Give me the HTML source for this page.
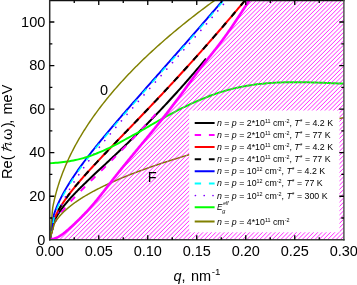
<!DOCTYPE html>
<html><head><meta charset="utf-8"><style>
html,body{margin:0;padding:0;background:#fff;overflow:hidden}
svg{display:block;will-change:transform}
text{font-family:"Liberation Sans",sans-serif;font-size:14.5px;fill:#000}
.lg{font-size:8.8px}
.sp{font-size:5.4px;baseline-shift:3.4px}
.st{font-size:7px;baseline-shift:1.6px}
</style></head><body>
<svg width="357" height="285" viewBox="0 0 357 285">
<defs>
<pattern id="h" patternUnits="userSpaceOnUse" width="3.005" height="10" patternTransform="rotate(45) translate(1.0,0)">
<line x1="0" y1="-1" x2="0" y2="11" stroke="#ff00ff" stroke-width="1.2"/>
</pattern>
<clipPath id="hc"><path d="M49.75,239.8 L50.4,239.27 L51.07,239.23 L51.74,239.15 L52.41,239.05 L53.08,238.91 L53.75,238.74 L54.42,238.54 L55.08,238.31 L55.75,238.05 L56.42,237.77 L57.09,237.46 L57.76,237.13 L58.43,236.78 L59.1,236.4 L59.77,236.01 L60.44,235.59 L61.11,235.16 L61.78,234.7 L62.45,234.23 L63.12,233.75 L63.78,233.25 L64.45,232.73 L65.12,232.2 L65.79,231.66 L66.46,231.11 L67.13,230.54 L67.8,229.97 L68.47,229.38 L69.14,228.79 L69.81,228.19 L70.48,227.58 L71.15,226.97 L71.82,226.35 L72.48,225.72 L73.15,225.1 L73.82,224.46 L74.49,223.83 L75.16,223.19 L75.83,222.56 L76.5,221.91 L77.17,221.27 L77.84,220.62 L78.51,219.97 L79.18,219.31 L79.85,218.65 L80.52,217.98 L81.18,217.31 L81.85,216.64 L82.52,215.96 L83.19,215.28 L83.86,214.59 L84.53,213.89 L85.2,213.2 L85.87,212.49 L86.54,211.78 L87.21,211.06 L87.88,210.34 L88.55,209.61 L89.22,208.88 L89.88,208.13 L90.55,207.38 L91.22,206.63 L91.89,205.87 L92.56,205.1 L93.23,204.32 L93.9,203.53 L94.57,202.74 L95.24,201.94 L95.91,201.13 L96.58,200.32 L97.25,199.5 L97.92,198.68 L98.58,197.85 L99.25,197.02 L99.92,196.18 L100.59,195.34 L101.26,194.49 L101.93,193.64 L102.6,192.79 L103.27,191.94 L103.94,191.08 L104.61,190.22 L105.28,189.36 L105.95,188.49 L106.62,187.63 L107.28,186.77 L107.95,185.9 L108.62,185.04 L109.29,184.17 L109.96,183.31 L110.63,182.45 L111.3,181.59 L111.97,180.73 L112.64,179.87 L113.31,179.02 L113.98,178.16 L114.65,177.31 L115.32,176.47 L115.98,175.62 L116.65,174.78 L117.32,173.93 L117.99,173.09 L118.66,172.26 L119.33,171.42 L120,170.59 L120.67,169.75 L121.34,168.92 L122.01,168.09 L122.68,167.26 L123.35,166.44 L124.02,165.61 L124.68,164.79 L125.35,163.97 L126.02,163.15 L126.69,162.33 L127.36,161.51 L128.03,160.69 L128.7,159.87 L129.37,159.06 L130.04,158.24 L130.71,157.43 L131.38,156.61 L132.05,155.8 L132.72,154.99 L133.38,154.18 L134.05,153.37 L134.72,152.56 L135.39,151.75 L136.06,150.94 L136.73,150.13 L137.4,149.32 L138.07,148.51 L138.74,147.7 L139.41,146.9 L140.08,146.09 L140.75,145.28 L141.42,144.47 L142.08,143.66 L142.75,142.86 L143.42,142.05 L144.09,141.24 L144.76,140.43 L145.43,139.62 L146.1,138.81 L146.77,138 L147.44,137.19 L148.11,136.38 L148.78,135.57 L149.45,134.75 L150.12,133.94 L150.78,133.13 L151.45,132.31 L152.12,131.49 L152.79,130.68 L153.46,129.86 L154.13,129.04 L154.8,128.22 L155.47,127.4 L156.14,126.57 L156.81,125.75 L157.48,124.92 L158.15,124.1 L158.82,123.27 L159.48,122.44 L160.15,121.6 L160.82,120.77 L161.49,119.94 L162.16,119.1 L162.83,118.26 L163.5,117.42 L164.17,116.58 L164.84,115.73 L165.51,114.88 L166.18,114.03 L166.85,113.18 L167.52,112.33 L168.18,111.47 L168.85,110.62 L169.52,109.76 L170.19,108.89 L170.86,108.03 L171.53,107.16 L172.2,106.29 L172.87,105.41 L173.54,104.54 L174.21,103.66 L174.88,102.78 L175.55,101.89 L176.22,101.01 L176.88,100.11 L177.55,99.22 L178.22,98.32 L178.89,97.42 L179.56,96.52 L180.23,95.62 L180.9,94.71 L181.57,93.8 L182.24,92.89 L182.91,91.97 L183.58,91.06 L184.25,90.14 L184.92,89.23 L185.58,88.31 L186.25,87.39 L186.92,86.47 L187.59,85.55 L188.26,84.64 L188.93,83.72 L189.6,82.8 L190.27,81.89 L190.94,80.97 L191.61,80.06 L192.28,79.15 L192.95,78.24 L193.62,77.33 L194.28,76.42 L194.95,75.52 L195.62,74.62 L196.29,73.73 L196.96,72.83 L197.63,71.94 L198.3,71.06 L198.97,70.17 L199.64,69.3 L200.31,68.42 L200.98,67.55 L201.65,66.69 L202.32,65.83 L202.98,64.97 L203.65,64.12 L204.32,63.27 L204.99,62.42 L205.66,61.58 L206.33,60.74 L207,59.9 L207.67,59.06 L208.34,58.22 L209.01,57.38 L209.68,56.54 L210.35,55.7 L211.02,54.86 L211.68,54.03 L212.35,53.18 L213.02,52.34 L213.69,51.5 L214.36,50.65 L215.03,49.8 L215.7,48.95 L216.37,48.1 L217.04,47.24 L217.71,46.37 L218.38,45.51 L219.05,44.63 L219.72,43.76 L220.38,42.87 L221.05,41.98 L221.72,41.09 L222.39,40.19 L223.06,39.28 L223.73,38.37 L224.4,37.45 L225.07,36.52 L225.74,35.59 L226.41,34.66 L227.08,33.72 L227.75,32.77 L228.42,31.82 L229.08,30.86 L229.75,29.9 L230.42,28.94 L231.09,27.96 L231.76,26.99 L232.43,26 L233.1,25.02 L233.77,24.03 L234.44,23.03 L235.11,22.03 L235.78,21.03 L236.45,20.02 L237.12,19.01 L237.78,17.99 L238.45,16.97 L239.12,15.95 L239.79,14.92 L240.46,13.9 L241.13,12.87 L241.8,11.84 L242.47,10.81 L243.14,9.78 L243.81,8.75 L244.48,7.72 L245.15,6.69 L245.82,5.65 L246.48,4.62 L247.15,3.6 L247.82,2.57 L248.49,1.54 L249.16,0.52 L249.83,-0.5 L250.5,-1.52 L350,-5 L350,245 L49.75,245 Z"/></clipPath>
<clipPath id="c"><rect x="49.75" y="0" width="294.15" height="239.8"/></clipPath>
</defs>
<rect width="357" height="285" fill="#fff"/>
<g clip-path="url(#c)" fill="none" stroke-linejoin="round">
<path d="M49.75,239.8 L50.4,239.27 L51.07,239.23 L51.74,239.15 L52.41,239.05 L53.08,238.91 L53.75,238.74 L54.42,238.54 L55.08,238.31 L55.75,238.05 L56.42,237.77 L57.09,237.46 L57.76,237.13 L58.43,236.78 L59.1,236.4 L59.77,236.01 L60.44,235.59 L61.11,235.16 L61.78,234.7 L62.45,234.23 L63.12,233.75 L63.78,233.25 L64.45,232.73 L65.12,232.2 L65.79,231.66 L66.46,231.11 L67.13,230.54 L67.8,229.97 L68.47,229.38 L69.14,228.79 L69.81,228.19 L70.48,227.58 L71.15,226.97 L71.82,226.35 L72.48,225.72 L73.15,225.1 L73.82,224.46 L74.49,223.83 L75.16,223.19 L75.83,222.56 L76.5,221.91 L77.17,221.27 L77.84,220.62 L78.51,219.97 L79.18,219.31 L79.85,218.65 L80.52,217.98 L81.18,217.31 L81.85,216.64 L82.52,215.96 L83.19,215.28 L83.86,214.59 L84.53,213.89 L85.2,213.2 L85.87,212.49 L86.54,211.78 L87.21,211.06 L87.88,210.34 L88.55,209.61 L89.22,208.88 L89.88,208.13 L90.55,207.38 L91.22,206.63 L91.89,205.87 L92.56,205.1 L93.23,204.32 L93.9,203.53 L94.57,202.74 L95.24,201.94 L95.91,201.13 L96.58,200.32 L97.25,199.5 L97.92,198.68 L98.58,197.85 L99.25,197.02 L99.92,196.18 L100.59,195.34 L101.26,194.49 L101.93,193.64 L102.6,192.79 L103.27,191.94 L103.94,191.08 L104.61,190.22 L105.28,189.36 L105.95,188.49 L106.62,187.63 L107.28,186.77 L107.95,185.9 L108.62,185.04 L109.29,184.17 L109.96,183.31 L110.63,182.45 L111.3,181.59 L111.97,180.73 L112.64,179.87 L113.31,179.02 L113.98,178.16 L114.65,177.31 L115.32,176.47 L115.98,175.62 L116.65,174.78 L117.32,173.93 L117.99,173.09 L118.66,172.26 L119.33,171.42 L120,170.59 L120.67,169.75 L121.34,168.92 L122.01,168.09 L122.68,167.26 L123.35,166.44 L124.02,165.61 L124.68,164.79 L125.35,163.97 L126.02,163.15 L126.69,162.33 L127.36,161.51 L128.03,160.69 L128.7,159.87 L129.37,159.06 L130.04,158.24 L130.71,157.43 L131.38,156.61 L132.05,155.8 L132.72,154.99 L133.38,154.18 L134.05,153.37 L134.72,152.56 L135.39,151.75 L136.06,150.94 L136.73,150.13 L137.4,149.32 L138.07,148.51 L138.74,147.7 L139.41,146.9 L140.08,146.09 L140.75,145.28 L141.42,144.47 L142.08,143.66 L142.75,142.86 L143.42,142.05 L144.09,141.24 L144.76,140.43 L145.43,139.62 L146.1,138.81 L146.77,138 L147.44,137.19 L148.11,136.38 L148.78,135.57 L149.45,134.75 L150.12,133.94 L150.78,133.13 L151.45,132.31 L152.12,131.49 L152.79,130.68 L153.46,129.86 L154.13,129.04 L154.8,128.22 L155.47,127.4 L156.14,126.57 L156.81,125.75 L157.48,124.92 L158.15,124.1 L158.82,123.27 L159.48,122.44 L160.15,121.6 L160.82,120.77 L161.49,119.94 L162.16,119.1 L162.83,118.26 L163.5,117.42 L164.17,116.58 L164.84,115.73 L165.51,114.88 L166.18,114.03 L166.85,113.18 L167.52,112.33 L168.18,111.47 L168.85,110.62 L169.52,109.76 L170.19,108.89 L170.86,108.03 L171.53,107.16 L172.2,106.29 L172.87,105.41 L173.54,104.54 L174.21,103.66 L174.88,102.78 L175.55,101.89 L176.22,101.01 L176.88,100.11 L177.55,99.22 L178.22,98.32 L178.89,97.42 L179.56,96.52 L180.23,95.62 L180.9,94.71 L181.57,93.8 L182.24,92.89 L182.91,91.97 L183.58,91.06 L184.25,90.14 L184.92,89.23 L185.58,88.31 L186.25,87.39 L186.92,86.47 L187.59,85.55 L188.26,84.64 L188.93,83.72 L189.6,82.8 L190.27,81.89 L190.94,80.97 L191.61,80.06 L192.28,79.15 L192.95,78.24 L193.62,77.33 L194.28,76.42 L194.95,75.52 L195.62,74.62 L196.29,73.73 L196.96,72.83 L197.63,71.94 L198.3,71.06 L198.97,70.17 L199.64,69.3 L200.31,68.42 L200.98,67.55 L201.65,66.69 L202.32,65.83 L202.98,64.97 L203.65,64.12 L204.32,63.27 L204.99,62.42 L205.66,61.58 L206.33,60.74 L207,59.9 L207.67,59.06 L208.34,58.22 L209.01,57.38 L209.68,56.54 L210.35,55.7 L211.02,54.86 L211.68,54.03 L212.35,53.18 L213.02,52.34 L213.69,51.5 L214.36,50.65 L215.03,49.8 L215.7,48.95 L216.37,48.1 L217.04,47.24 L217.71,46.37 L218.38,45.51 L219.05,44.63 L219.72,43.76 L220.38,42.87 L221.05,41.98 L221.72,41.09 L222.39,40.19 L223.06,39.28 L223.73,38.37 L224.4,37.45 L225.07,36.52 L225.74,35.59 L226.41,34.66 L227.08,33.72 L227.75,32.77 L228.42,31.82 L229.08,30.86 L229.75,29.9 L230.42,28.94 L231.09,27.96 L231.76,26.99 L232.43,26 L233.1,25.02 L233.77,24.03 L234.44,23.03 L235.11,22.03 L235.78,21.03 L236.45,20.02 L237.12,19.01 L237.78,17.99 L238.45,16.97 L239.12,15.95 L239.79,14.92 L240.46,13.9 L241.13,12.87 L241.8,11.84 L242.47,10.81 L243.14,9.78 L243.81,8.75 L244.48,7.72 L245.15,6.69 L245.82,5.65 L246.48,4.62 L247.15,3.6 L247.82,2.57 L248.49,1.54 L249.16,0.52 L249.83,-0.5 L250.5,-1.52 L350,-5 L350,245 L49.75,245 Z" fill="url(#h)" stroke="none"/>
<path d="M49.75,239.8 L53.67,222.34 L53.71,222.26 L54.03,221.55 L54.36,220.84 L54.7,220.14 L55.05,219.45 L55.4,218.76 L55.77,218.07 L56.14,217.39 L56.53,216.71 L56.92,216.03 L57.32,215.36 L57.73,214.69 L58.14,214.02 L58.57,213.36 L59,212.69 L59.44,212.03 L59.88,211.37 L60.34,210.72 L60.8,210.06 L61.27,209.4 L61.74,208.75 L62.23,208.1 L62.72,207.44 L63.21,206.79 L63.72,206.14 L64.23,205.49 L64.75,204.84 L65.27,204.19 L65.81,203.54 L66.34,202.89 L66.89,202.24 L67.44,201.59 L68,200.94 L68.56,200.29 L69.14,199.64 L69.71,198.99 L70.3,198.34 L70.89,197.68 L71.48,197.03 L72.09,196.37 L72.7,195.72 L73.31,195.06 L73.93,194.4 L74.56,193.74 L75.19,193.08 L75.83,192.41 L76.48,191.75 L77.13,191.08 L77.78,190.41 L78.45,189.74 L79.11,189.07 L79.79,188.4 L80.47,187.72 L81.15,187.04 L81.84,186.36 L82.54,185.67 L83.24,184.99 L83.95,184.3 L84.66,183.61 L85.38,182.91 L86.11,182.21 L86.84,181.51 L87.57,180.81 L88.31,180.1 L89.06,179.39 L89.81,178.68 L90.57,177.96 L91.33,177.24 L92.1,176.52 L92.87,175.79 L93.65,175.06 L94.43,174.33 L95.22,173.59 L96.01,172.85 L96.81,172.1 L97.61,171.35 L98.42,170.6 L99.24,169.84 L100.06,169.08 L100.88,168.31 L101.71,167.54 L102.54,166.76 L103.38,165.98 L104.22,165.2 L105.07,164.41 L105.93,163.61 L106.79,162.81 L107.65,162.01 L108.52,161.2 L109.39,160.38 L110.27,159.56 L111.15,158.74 L112.04,157.91 L112.93,157.07 L113.83,156.23 L114.73,155.38 L115.64,154.53 L116.55,153.67 L117.46,152.81 L118.38,151.94 L119.31,151.07 L120.24,150.18 L121.17,149.3 L122.11,148.4 L123.05,147.51 L124,146.6 L124.96,145.69 L125.91,144.77 L126.87,143.85 L127.84,142.92 L128.81,141.98 L129.79,141.04 L130.77,140.09 L131.75,139.13 L132.74,138.17 L133.73,137.2 L134.73,136.22 L135.73,135.23 L136.74,134.24 L137.75,133.25 L138.76,132.24 L139.78,131.23 L140.81,130.21 L141.84,129.18 L142.87,128.15 L143.91,127.11 L144.95,126.06 L145.99,125 L147.04,123.94 L148.1,122.87 L149.15,121.79 L150.22,120.7 L151.28,119.61 L152.35,118.51 L153.43,117.4 L154.51,116.28 L155.59,115.16 L156.68,114.02 L157.77,112.88 L158.87,111.73 L159.97,110.57 L161.07,109.41 L162.18,108.24 L163.29,107.05 L164.41,105.86 L165.53,104.66 L166.65,103.46 L167.78,102.24 L168.92,101.02 L170.05,99.79 L171.19,98.54 L172.34,97.3 L173.49,96.04 L174.64,94.77 L175.8,93.49 L176.96,92.21 L178.12,90.92 L179.29,89.61 L180.47,88.3 L181.64,86.98 L182.82,85.65 L184.01,84.32 L185.2,82.97 L186.39,81.61 L187.59,80.25 L188.79,78.87 L189.99,77.49 L191.2,76.1 L192.41,74.7 L193.63,73.28 L194.85,71.86 L196.07,70.43 L197.3,68.99 L198.53,67.54 L199.77,66.09 L201.01,64.62 L202.25,63.14 L203.5,61.65 L204.75,60.16 L206,58.65" stroke="#000" stroke-width="2"/>
<path d="M49.75,239.8 L53.67,224.45 L53.82,224.14 L54.08,223.64 L54.34,223.14 L54.6,222.65 L54.87,222.16 L55.15,221.67 L55.43,221.18 L55.72,220.69 L56.01,220.2 L56.31,219.71 L56.61,219.23 L56.92,218.75 L57.23,218.26 L57.55,217.78 L57.87,217.3 L58.19,216.81 L58.53,216.33 L58.86,215.85 L59.2,215.37 L59.55,214.89 L59.9,214.41 L60.26,213.92 L60.62,213.44 L60.98,212.96 L61.35,212.48 L61.72,212 L62.1,211.51 L62.48,211.03 L62.87,210.54 L63.26,210.06 L63.66,209.57 L64.06,209.09 L64.46,208.6 L64.87,208.11 L65.28,207.63 L65.7,207.14 L66.12,206.64 L66.54,206.15 L66.97,205.66 L67.4,205.17 L67.84,204.67 L68.28,204.17 L68.72,203.68 L69.17,203.18 L69.62,202.68 L70.08,202.18 L70.54,201.67 L71,201.17 L71.47,200.66 L71.94,200.15 L72.42,199.64 L72.9,199.13 L73.38,198.62 L73.87,198.1 L74.36,197.59 L74.85,197.07 L75.35,196.55 L75.85,196.03 L76.35,195.5 L76.86,194.98 L77.38,194.45 L77.89,193.92 L78.41,193.39 L78.93,192.85 L79.46,192.32 L79.99,191.78 L80.52,191.24 L81.06,190.69 L81.6,190.15 L82.14,189.6 L82.69,189.05 L83.24,188.5 L83.8,187.94 L84.35,187.38 L84.92,186.82 L85.48,186.26 L86.05,185.69 L86.62,185.13 L87.19,184.56 L87.77,183.98 L88.35,183.41 L88.94,182.83 L89.52,182.25 L90.11,181.66 L90.71,181.08 L91.31,180.49 L91.91,179.89 L92.51,179.3 L93.12,178.7 L93.73,178.1 L94.34,177.49 L94.96,176.88 L95.58,176.27 L96.2,175.66 L96.83,175.04 L97.46,174.42 L98.09,173.8 L98.72,173.17 L99.36,172.54 L100,171.91 L100.65,171.27 L101.3,170.63 L101.95,169.99 L102.6,169.34 L103.26,168.69 L103.92,168.04 L104.58,167.38 L105.25,166.72 L105.92,166.06 L106.59,165.39 L107.26,164.72 L107.94,164.05 L108.62,163.37 L109.31,162.69 L109.99,162 L110.68,161.31 L111.38,160.62 L112.07,159.92 L112.77,159.22 L113.47,158.52 L114.18,157.81 L114.89,157.1 L115.6,156.39 L116.31,155.67 L117.03,154.94 L117.75,154.22 L118.47,153.49 L119.19,152.75 L119.92,152.01 L120.65,151.27 L121.38,150.52 L122.12,149.77 L122.86,149.02 L123.6,148.26 L124.34,147.49 L125.09,146.73 L125.84,145.95 L126.6,145.18 L127.35,144.4 L128.11,143.61 L128.87,142.82 L129.63,142.03 L130.4,141.23 L131.17,140.43 L131.94,139.63 L132.72,138.82 L133.5,138 L134.28,137.18 L135.06,136.36 L135.84,135.53 L136.63,134.7 L137.42,133.86 L138.22,133.02 L139.01,132.18 L139.81,131.33 L140.62,130.47 L141.42,129.61 L142.23,128.75 L143.04,127.88 L143.85,127 L144.67,126.13 L145.48,125.24 L146.3,124.36 L147.13,123.46 L147.95,122.57 L148.78,121.67 L149.61,120.76 L150.44,119.85 L151.28,118.93 L152.12,118.01 L152.96,117.09 L153.8,116.16 L154.65,115.22 L155.5,114.28" stroke="#ff00ff" stroke-width="2" stroke-dasharray="6.3 8.15" stroke-dashoffset="-1.15"/>
<path d="M49.75,239.8 L53.67,220.28 L53.98,219.49 L54.37,218.57 L54.76,217.65 L55.17,216.74 L55.59,215.83 L56.02,214.93 L56.46,214.04 L56.91,213.14 L57.38,212.25 L57.85,211.36 L58.34,210.48 L58.83,209.6 L59.34,208.72 L59.86,207.84 L60.38,206.96 L60.92,206.09 L61.47,205.21 L62.02,204.34 L62.59,203.46 L63.16,202.59 L63.75,201.72 L64.34,200.84 L64.95,199.97 L65.56,199.1 L66.18,198.22 L66.81,197.35 L67.45,196.47 L68.1,195.59 L68.75,194.72 L69.42,193.84 L70.09,192.96 L70.77,192.07 L71.47,191.19 L72.16,190.3 L72.87,189.41 L73.59,188.52 L74.31,187.63 L75.04,186.74 L75.78,185.84 L76.53,184.94 L77.29,184.04 L78.05,183.13 L78.82,182.23 L79.6,181.31 L80.39,180.4 L81.18,179.48 L81.98,178.56 L82.79,177.64 L83.61,176.71 L84.43,175.78 L85.27,174.85 L86.11,173.91 L86.95,172.97 L87.81,172.02 L88.67,171.08 L89.54,170.12 L90.41,169.16 L91.29,168.2 L92.18,167.24 L93.08,166.27 L93.98,165.29 L94.9,164.31 L95.81,163.33 L96.74,162.34 L97.67,161.35 L98.61,160.35 L99.55,159.35 L100.51,158.34 L101.46,157.33 L102.43,156.31 L103.4,155.29 L104.38,154.26 L105.37,153.23 L106.36,152.19 L107.36,151.15 L108.36,150.1 L109.37,149.05 L110.39,147.99 L111.42,146.92 L112.45,145.85 L113.48,144.77 L114.53,143.69 L115.58,142.6 L116.63,141.5 L117.7,140.4 L118.77,139.3 L119.84,138.18 L120.92,137.06 L122.01,135.94 L123.1,134.81 L124.2,133.67 L125.31,132.52 L126.42,131.37 L127.54,130.22 L128.67,129.05 L129.8,127.88 L130.93,126.7 L132.07,125.52 L133.22,124.33 L134.38,123.13 L135.54,121.92 L136.7,120.71 L137.88,119.49 L139.05,118.27 L140.24,117.04 L141.43,115.79 L142.62,114.55 L143.82,113.29 L145.03,112.03 L146.24,110.76 L147.46,109.48 L148.69,108.2 L149.92,106.91 L151.15,105.61 L152.39,104.3 L153.64,102.99 L154.89,101.67 L156.15,100.33 L157.42,99 L158.68,97.65 L159.96,96.3 L161.24,94.94 L162.53,93.57 L163.82,92.19 L165.11,90.8 L166.42,89.41 L167.73,88.01 L169.04,86.6 L170.36,85.18 L171.68,83.75 L173.01,82.32 L174.35,80.87 L175.69,79.42 L177.03,77.96 L178.39,76.49 L179.74,75.02 L181.1,73.53 L182.47,72.04 L183.84,70.53 L185.22,69.02 L186.61,67.5 L187.99,65.97 L189.39,64.43 L190.79,62.89 L192.19,61.33 L193.6,59.76 L195.02,58.19 L196.44,56.61 L197.86,55.02 L199.29,53.42 L200.73,51.81 L202.17,50.19 L203.61,48.56 L205.06,46.92 L206.52,45.27 L207.98,43.62 L209.45,41.95 L210.92,40.28 L212.39,38.59 L213.87,36.9 L215.36,35.19 L216.85,33.48 L218.35,31.76 L219.85,30.03 L221.35,28.29 L222.86,26.53 L224.38,24.77 L225.9,23 L227.43,21.22 L228.96,19.43 L230.49,17.63 L232.04,15.82 L233.58,14 L235.13,12.17 L236.69,10.33 L238.25,8.48 L239.81,6.62 L241.38,4.75 L242.96,2.87 L244.54,0.98 L246.12,-0.92 L247.71,-2.83" stroke="#ff0000" stroke-width="2"/>
<path d="M49.75,239.8 L53.67,220.28 L53.98,219.49 L54.37,218.57 L54.76,217.65 L55.17,216.74 L55.59,215.83 L56.02,214.93 L56.46,214.04 L56.91,213.14 L57.38,212.25 L57.85,211.36 L58.34,210.48 L58.83,209.6 L59.34,208.72 L59.86,207.84 L60.38,206.96 L60.92,206.09 L61.47,205.21 L62.02,204.34 L62.59,203.46 L63.16,202.59 L63.75,201.72 L64.34,200.84 L64.95,199.97 L65.56,199.1 L66.18,198.22 L66.81,197.35 L67.45,196.47 L68.1,195.59 L68.75,194.72 L69.42,193.84 L70.09,192.96 L70.77,192.07 L71.47,191.19 L72.16,190.3 L72.87,189.41 L73.59,188.52 L74.31,187.63 L75.04,186.74 L75.78,185.84 L76.53,184.94 L77.29,184.04 L78.05,183.13 L78.82,182.23 L79.6,181.31 L80.39,180.4 L81.18,179.48 L81.98,178.56 L82.79,177.64 L83.61,176.71 L84.43,175.78 L85.27,174.85 L86.11,173.91 L86.95,172.97 L87.81,172.02 L88.67,171.08 L89.54,170.12 L90.41,169.16 L91.29,168.2 L92.18,167.24 L93.08,166.27 L93.98,165.29 L94.9,164.31 L95.81,163.33 L96.74,162.34 L97.67,161.35 L98.61,160.35 L99.55,159.35 L100.51,158.34 L101.46,157.33 L102.43,156.31 L103.4,155.29 L104.38,154.26 L105.37,153.23 L106.36,152.19 L107.36,151.15 L108.36,150.1 L109.37,149.05 L110.39,147.99 L111.42,146.92 L112.45,145.85 L113.48,144.77 L114.53,143.69 L115.58,142.6 L116.63,141.5 L117.7,140.4 L118.77,139.3 L119.84,138.18 L120.92,137.06 L122.01,135.94 L123.1,134.81 L124.2,133.67 L125.31,132.52 L126.42,131.37 L127.54,130.22 L128.67,129.05 L129.8,127.88 L130.93,126.7 L132.07,125.52 L133.22,124.33 L134.38,123.13 L135.54,121.92 L136.7,120.71 L137.88,119.49 L139.05,118.27 L140.24,117.04 L141.43,115.79 L142.62,114.55 L143.82,113.29 L145.03,112.03 L146.24,110.76 L147.46,109.48 L148.69,108.2 L149.92,106.91 L151.15,105.61 L152.39,104.3 L153.64,102.99 L154.89,101.67 L156.15,100.33 L157.42,99 L158.68,97.65 L159.96,96.3 L161.24,94.94 L162.53,93.57 L163.82,92.19 L165.11,90.8 L166.42,89.41 L167.73,88.01 L169.04,86.6 L170.36,85.18 L171.68,83.75 L173.01,82.32 L174.35,80.87 L175.69,79.42 L177.03,77.96 L178.39,76.49 L179.74,75.02 L181.1,73.53 L182.47,72.04 L183.84,70.53 L185.22,69.02 L186.61,67.5 L187.99,65.97 L189.39,64.43 L190.79,62.89 L192.19,61.33 L193.6,59.76 L195.02,58.19 L196.44,56.61 L197.86,55.02 L199.29,53.42 L200.73,51.81 L202.17,50.19 L203.61,48.56 L205.06,46.92 L206.52,45.27 L207.98,43.62 L209.45,41.95 L210.92,40.28 L212.39,38.59 L213.87,36.9 L215.36,35.19 L216.85,33.48 L218.35,31.76 L219.85,30.03 L221.35,28.29 L222.86,26.53 L224.38,24.77 L225.9,23 L227.43,21.22 L228.96,19.43 L230.49,17.63 L232.04,15.82 L233.58,14 L235.13,12.17 L236.69,10.33 L238.25,8.48 L239.81,6.62 L241.38,4.75 L242.96,2.87 L244.54,0.98 L246.12,-0.92 L247.71,-2.83" stroke="#000" stroke-width="2" stroke-dasharray="6.3 8.15" stroke-dashoffset="-1.95"/>
<path d="M49.75,239.8 L53.67,215.43 L53.86,214.81 L54.22,213.74 L54.58,212.68 L54.95,211.62 L55.34,210.57 L55.73,209.53 L56.13,208.49 L56.55,207.46 L56.97,206.43 L57.4,205.41 L57.84,204.38 L58.3,203.37 L58.76,202.35 L59.22,201.34 L59.7,200.33 L60.19,199.33 L60.69,198.33 L61.19,197.32 L61.7,196.32 L62.22,195.33 L62.75,194.33 L63.29,193.33 L63.84,192.34 L64.39,191.34 L64.95,190.35 L65.52,189.36 L66.1,188.36 L66.68,187.37 L67.28,186.38 L67.88,185.39 L68.48,184.39 L69.1,183.4 L69.72,182.41 L70.35,181.41 L70.99,180.42 L71.64,179.42 L72.29,178.43 L72.95,177.43 L73.61,176.43 L74.29,175.43 L74.97,174.43 L75.65,173.43 L76.35,172.43 L77.05,171.42 L77.76,170.42 L78.47,169.41 L79.19,168.4 L79.92,167.39 L80.66,166.37 L81.4,165.36 L82.15,164.34 L82.9,163.32 L83.66,162.3 L84.43,161.27 L85.2,160.24 L85.98,159.22 L86.77,158.18 L87.56,157.15 L88.36,156.11 L89.17,155.07 L89.98,154.03 L90.8,152.99 L91.62,151.94 L92.45,150.89 L93.29,149.83 L94.13,148.78 L94.98,147.72 L95.83,146.65 L96.69,145.59 L97.56,144.52 L98.43,143.44 L99.31,142.37 L100.19,141.29 L101.08,140.21 L101.98,139.12 L102.88,138.03 L103.79,136.93 L104.7,135.84 L105.62,134.74 L106.54,133.63 L107.47,132.52 L108.41,131.41 L109.35,130.3 L110.3,129.18 L111.25,128.05 L112.21,126.92 L113.17,125.79 L114.14,124.66 L115.12,123.52 L116.1,122.37 L117.08,121.22 L118.07,120.07 L119.07,118.91 L120.07,117.75 L121.08,116.59 L122.09,115.42 L123.11,114.24 L124.13,113.06 L125.16,111.88 L126.19,110.69 L127.23,109.5 L128.28,108.3 L129.33,107.1 L130.38,105.89 L131.44,104.68 L132.51,103.47 L133.58,102.25 L134.65,101.02 L135.73,99.79 L136.82,98.55 L137.91,97.31 L139.01,96.07 L140.11,94.82 L141.21,93.56 L142.33,92.3 L143.44,91.04 L144.56,89.77 L145.69,88.49 L146.82,87.21 L147.96,85.92 L149.1,84.63 L150.24,83.33 L151.39,82.03 L152.55,80.72 L153.71,79.41 L154.88,78.09 L156.05,76.77 L157.22,75.44 L158.4,74.11 L159.59,72.77 L160.78,71.42 L161.97,70.07 L163.17,68.71 L164.38,67.35 L165.59,65.98 L166.8,64.61 L168.02,63.23 L169.24,61.84 L170.47,60.45 L171.7,59.05 L172.94,57.65 L174.18,56.24 L175.43,54.83 L176.68,53.41 L177.93,51.98 L179.19,50.55 L180.46,49.11 L181.73,47.66 L183,46.21 L184.28,44.76 L185.57,43.29 L186.85,41.82 L188.15,40.35 L189.44,38.87 L190.75,37.38 L192.05,35.89 L193.36,34.39 L194.68,32.88 L196,31.37 L197.32,29.85 L198.65,28.32 L199.98,26.79 L201.32,25.25 L202.66,23.71 L204.01,22.16 L205.36,20.6 L206.72,19.03 L208.08,17.46 L209.44,15.89 L210.81,14.3 L212.18,12.71 L213.56,11.11 L214.94,9.51 L216.33,7.9 L217.72,6.28 L219.11,4.66 L220.51,3.03 L221.91,1.39 L223.32,-0.25 L224.73,-1.9 L226.15,-3.56" stroke="#0000ff" stroke-width="1.9"/>
<path d="M49.75,239.8 L54.55,215.72 L54.88,214.76 L55.24,213.68 L55.61,212.6 L56,211.52 L56.39,210.46 L56.8,209.4 L57.21,208.35 L57.64,207.3 L58.07,206.25 L58.51,205.21 L58.97,204.17 L59.43,203.14 L59.91,202.11 L60.39,201.09 L60.88,200.06 L61.38,199.04 L61.89,198.02 L62.41,197 L62.93,195.99 L63.47,194.97 L64.01,193.96 L64.57,192.94 L65.13,191.93 L65.7,190.92 L66.27,189.91 L66.86,188.9 L67.45,187.89 L68.05,186.88 L68.66,185.87 L69.28,184.86 L69.91,183.85 L70.54,182.84 L71.18,181.83 L71.83,180.82 L72.48,179.81 L73.14,178.8 L73.81,177.78 L74.49,176.77 L75.18,175.75 L75.87,174.73 L76.57,173.71 L77.27,172.69 L77.99,171.67 L78.71,170.65 L79.44,169.62 L80.17,168.59 L80.91,167.56 L81.66,166.53 L82.42,165.5 L83.18,164.46 L83.95,163.42 L84.72,162.38 L85.5,161.34 L86.29,160.29 L87.09,159.25 L87.89,158.2 L88.7,157.14 L89.51,156.09 L90.33,155.03 L91.16,153.97 L92,152.9 L92.84,151.84 L93.68,150.77 L94.54,149.69 L95.4,148.62 L96.26,147.54 L97.13,146.45 L98.01,145.37 L98.9,144.28 L99.79,143.18 L100.68,142.09 L101.59,140.99 L102.49,139.88 L103.41,138.78 L104.33,137.67 L105.26,136.55 L106.19,135.43 L107.13,134.31 L108.07,133.18 L109.02,132.05 L109.98,130.92 L110.94,129.78 L111.91,128.64 L112.88,127.49 L113.86,126.34 L114.84,125.19 L115.83,124.03 L116.83,122.87 L117.83,121.7 L118.84,120.53 L119.85,119.35 L120.87,118.17 L121.89,116.98 L122.92,115.79 L123.96,114.6 L125,113.4 L126.05,112.2 L127.1,110.99 L128.16,109.77 L129.22,108.56 L130.29,107.33 L131.36,106.11 L132.44,104.87 L133.52,103.64 L134.61,102.39 L135.71,101.15 L136.81,99.89 L137.91,98.64 L139.02,97.37 L140.14,96.1 L141.26,94.83 L142.39,93.55 L143.52,92.27 L144.66,90.98 L145.8,89.69 L146.94,88.39 L148.1,87.08 L149.25,85.77 L150.42,84.46 L151.58,83.14 L152.76,81.81 L153.94,80.48 L155.12,79.14 L156.31,77.8 L157.5,76.45 L158.7,75.09 L159.9,73.73 L161.11,72.36 L162.32,70.99 L163.54,69.61 L164.76,68.23 L165.99,66.84 L167.22,65.45 L168.46,64.04 L169.7,62.64 L170.95,61.22 L172.2,59.8 L173.46,58.38 L174.72,56.95 L175.99,55.51 L177.26,54.07 L178.54,52.62 L179.82,51.16 L181.1,49.7 L182.39,48.23 L183.69,46.76 L184.99,45.27 L186.3,43.79 L187.61,42.29 L188.92,40.79 L190.24,39.29 L191.56,37.77 L192.89,36.25 L194.22,34.73 L195.56,33.2 L196.91,31.66 L198.25,30.11 L199.6,28.56 L200.96,27 L202.32,25.44 L203.69,23.86 L205.06,22.29 L206.43,20.7 L207.81,19.11 L209.2,17.51 L210.58,15.9 L211.98,14.29 L213.37,12.67 L214.78,11.05 L216.18,9.41 L217.59,7.77 L219.01,6.13 L220.43,4.47 L221.85,2.81 L223.28,1.14 L224.72,-0.53 L226.15,-2.21 L227.6,-3.9 L229.04,-5.6 L230.49,-7.3 L231.95,-9.01" stroke="#00ffff" stroke-width="1.5" stroke-dasharray="6.3 8.15" stroke-dashoffset="-2.45"/>
<path d="M49.75,239.8 L57.57,215.43 L57.98,214.46 L58.34,213.38 L58.71,212.3 L59.1,211.22 L59.49,210.16 L59.9,209.1 L60.31,208.05 L60.74,207 L61.17,205.95 L61.61,204.91 L62.07,203.87 L62.53,202.84 L63.01,201.81 L63.49,200.79 L63.98,199.76 L64.48,198.74 L64.99,197.72 L65.51,196.7 L66.03,195.69 L66.57,194.67 L67.11,193.66 L67.67,192.64 L68.23,191.63 L68.8,190.62 L69.37,189.61 L69.96,188.6 L70.55,187.59 L71.15,186.58 L71.76,185.57 L72.38,184.56 L73.01,183.55 L73.64,182.54 L74.28,181.53 L74.93,180.52 L75.58,179.51 L76.24,178.5 L76.91,177.48 L77.59,176.47 L78.28,175.45 L78.97,174.43 L79.67,173.41 L80.37,172.39 L81.09,171.37 L81.81,170.35 L82.54,169.32 L83.27,168.29 L84.01,167.26 L84.76,166.23 L85.52,165.2 L86.28,164.16 L87.05,163.12 L87.82,162.08 L88.6,161.04 L89.39,159.99 L90.19,158.95 L90.99,157.9 L91.8,156.84 L92.61,155.79 L93.43,154.73 L94.26,153.67 L95.1,152.6 L95.94,151.54 L96.78,150.47 L97.64,149.39 L98.5,148.32 L99.36,147.24 L100.23,146.15 L101.11,145.07 L102,143.98 L102.89,142.88 L103.78,141.79 L104.69,140.69 L105.59,139.58 L106.51,138.48 L107.43,137.37 L108.36,136.25 L109.29,135.13 L110.23,134.01 L111.17,132.88 L112.12,131.75 L113.08,130.62 L114.04,129.48 L115.01,128.34 L115.98,127.19 L116.96,126.04 L117.94,124.89 L118.93,123.73 L119.93,122.57 L120.93,121.4 L121.94,120.23 L122.95,119.05 L123.97,117.87 L124.99,116.68 L126.02,115.49 L127.06,114.3 L128.1,113.1 L129.15,111.9 L130.2,110.69 L131.26,109.47 L132.32,108.26 L133.39,107.03 L134.46,105.81 L135.54,104.57 L136.62,103.34 L137.71,102.09 L138.81,100.85 L139.91,99.59 L141.01,98.34 L142.12,97.07 L143.24,95.8 L144.36,94.53 L145.49,93.25 L146.62,91.97 L147.76,90.68 L148.9,89.39 L150.04,88.09 L151.2,86.78 L152.35,85.47 L153.52,84.16 L154.68,82.84 L155.86,81.51 L157.04,80.18 L158.22,78.84 L159.41,77.5 L160.6,76.15 L161.8,74.79 L163,73.43 L164.21,72.06 L165.42,70.69 L166.64,69.31 L167.86,67.93 L169.09,66.54 L170.32,65.15 L171.56,63.74 L172.8,62.34 L174.05,60.92 L175.3,59.5 L176.56,58.08 L177.82,56.65 L179.09,55.21 L180.36,53.77 L181.64,52.32 L182.92,50.86 L184.2,49.4 L185.49,47.93 L186.79,46.46 L188.09,44.97 L189.4,43.49 L190.71,41.99 L192.02,40.49 L193.34,38.99 L194.66,37.47 L195.99,35.95 L197.32,34.43 L198.66,32.9 L200.01,31.36 L201.35,29.81 L202.7,28.26 L204.06,26.7 L205.42,25.14 L206.79,23.56 L208.16,21.99 L209.53,20.4 L210.91,18.81 L212.3,17.21 L213.68,15.6 L215.08,13.99 L216.47,12.37 L217.88,10.75 L219.28,9.11 L220.69,7.47 L222.11,5.83 L223.53,4.17 L224.95,2.51 L226.38,0.84 L227.82,-0.83 L229.25,-2.51 L230.7,-4.2 L232.14,-5.9 L233.59,-7.6 L235.05,-9.31" stroke="#8000ff" stroke-width="1.7" stroke-linecap="round" stroke-dasharray="0.001 8.599" stroke-dashoffset="-2.8"/>
<path d="M49.75,163.22 L51.72,163.11 L53.7,162.98 L55.67,162.84 L57.64,162.67 L59.62,162.48 L61.59,162.27 L63.56,162.03 L65.54,161.77 L67.51,161.48 L69.48,161.17 L71.45,160.83 L73.43,160.45 L75.4,160.05 L77.37,159.61 L79.35,159.14 L81.32,158.63 L83.29,158.09 L85.27,157.51 L87.24,156.89 L89.21,156.24 L91.19,155.55 L93.16,154.82 L95.13,154.07 L97.11,153.28 L99.08,152.47 L101.05,151.64 L103.03,150.78 L105,149.9 L106.97,149 L108.94,148.07 L110.92,147.11 L112.89,146.13 L114.86,145.13 L116.84,144.1 L118.81,143.04 L120.78,141.96 L122.76,140.85 L124.73,139.74 L126.7,138.63 L128.68,137.54 L130.65,136.49 L132.62,135.46 L134.6,134.42 L136.57,133.35 L138.54,132.26 L140.52,131.14 L142.49,130.01 L144.46,128.87 L146.43,127.72 L148.41,126.57 L150.38,125.42 L152.35,124.28 L154.33,123.14 L156.3,122.01 L158.27,120.89 L160.25,119.78 L162.22,118.68 L164.19,117.58 L166.17,116.5 L168.14,115.43 L170.11,114.36 L172.09,113.31 L174.06,112.27 L176.03,111.24 L178.01,110.22 L179.98,109.22 L181.95,108.23 L183.92,107.25 L185.9,106.29 L187.87,105.34 L189.84,104.41 L191.82,103.49 L193.79,102.59 L195.76,101.71 L197.74,100.84 L199.71,99.99 L201.68,99.16 L203.66,98.35 L205.63,97.55 L207.6,96.78 L209.58,96.02 L211.55,95.28 L213.52,94.57 L215.49,93.87 L217.47,93.2 L219.44,92.55 L221.41,91.92 L223.39,91.32 L225.36,90.73 L227.33,90.18 L229.31,89.64 L231.28,89.13 L233.25,88.64 L235.23,88.17 L237.2,87.72 L239.17,87.29 L241.15,86.89 L243.12,86.5 L245.09,86.14 L247.07,85.79 L249.04,85.46 L251.01,85.15 L252.98,84.86 L254.96,84.59 L256.93,84.33 L258.9,84.09 L260.88,83.87 L262.85,83.66 L264.82,83.47 L266.8,83.29 L268.77,83.13 L270.74,82.98 L272.72,82.85 L274.69,82.73 L276.66,82.62 L278.64,82.52 L280.61,82.44 L282.58,82.37 L284.56,82.31 L286.53,82.26 L288.5,82.22 L290.47,82.19 L292.45,82.17 L294.42,82.16 L296.39,82.16 L298.37,82.17 L300.34,82.19 L302.31,82.21 L304.29,82.24 L306.26,82.27 L308.23,82.32 L310.21,82.37 L312.18,82.42 L314.15,82.48 L316.13,82.54 L318.1,82.61 L320.07,82.68 L322.05,82.75 L324.02,82.83 L325.99,82.91 L327.96,82.99 L329.94,83.08 L331.91,83.16 L333.88,83.25 L335.86,83.33 L337.83,83.42 L339.8,83.5 L341.78,83.59 L343.75,83.67" stroke="#00ff00" stroke-width="1.95"/>
<path d="M49.75,239.8 L52.69,207.83 L52.82,207.15 L53.05,205.94 L53.29,204.73 L53.54,203.52 L53.79,202.31 L54.06,201.1 L54.33,199.89 L54.61,198.68 L54.9,197.47 L55.2,196.26 L55.51,195.05 L55.82,193.84 L56.15,192.63 L56.48,191.42 L56.82,190.22 L57.17,189.01 L57.53,187.8 L57.89,186.59 L58.27,185.38 L58.65,184.17 L59.04,182.96 L59.44,181.75 L59.85,180.54 L60.27,179.33 L60.69,178.12 L61.13,176.91 L61.57,175.7 L62.02,174.49 L62.48,173.28 L62.94,172.07 L63.42,170.87 L63.9,169.66 L64.39,168.45 L64.9,167.24 L65.4,166.03 L65.92,164.82 L66.45,163.61 L66.98,162.4 L67.52,161.19 L68.08,159.98 L68.64,158.77 L69.2,157.56 L69.78,156.35 L70.36,155.14 L70.96,153.93 L71.56,152.72 L72.17,151.52 L72.79,150.31 L73.41,149.1 L74.05,147.89 L74.69,146.68 L75.35,145.47 L76.01,144.26 L76.67,143.05 L77.35,141.84 L78.04,140.63 L78.73,139.42 L79.43,138.21 L80.15,137 L80.86,135.79 L81.59,134.58 L82.33,133.37 L83.07,132.16 L83.83,130.96 L84.59,129.75 L85.36,128.54 L86.14,127.33 L86.92,126.12 L87.72,124.91 L88.52,123.7 L89.33,122.49 L90.15,121.28 L90.98,120.07 L91.82,118.86 L92.67,117.65 L93.52,116.44 L94.38,115.23 L95.25,114.02 L96.13,112.81 L97.02,111.61 L97.92,110.4 L98.82,109.19 L99.73,107.98 L100.65,106.77 L101.58,105.56 L102.52,104.35 L103.47,103.14 L104.42,101.93 L105.39,100.72 L106.36,99.51 L107.34,98.3 L108.33,97.09 L109.32,95.88 L110.33,94.67 L111.34,93.46 L112.37,92.26 L113.4,91.05 L114.44,89.84 L115.48,88.63 L116.54,87.42 L117.6,86.21 L118.68,85 L119.76,83.79 L120.85,82.58 L121.95,81.37 L123.05,80.16 L124.17,78.95 L125.29,77.74 L126.42,76.53 L127.56,75.32 L128.71,74.11 L129.87,72.91 L131.03,71.7 L132.21,70.49 L133.39,69.28 L134.58,68.07 L135.78,66.86 L136.99,65.65 L138.2,64.44 L139.43,63.23 L140.66,62.02 L141.9,60.81 L143.15,59.6 L144.41,58.39 L145.67,57.18 L146.95,55.97 L148.23,54.76 L149.52,53.55 L150.82,52.35 L152.13,51.14 L153.45,49.93 L154.77,48.72 L156.11,47.51 L157.45,46.3 L158.8,45.09 L160.16,43.88 L161.52,42.67 L162.9,41.46 L164.28,40.25 L165.68,39.04 L167.08,37.83 L168.49,36.62 L169.91,35.41 L171.33,34.2 L172.77,33 L174.21,31.79 L175.66,30.58 L177.12,29.37 L178.59,28.16 L180.06,26.95 L181.55,25.74 L183.04,24.53 L184.55,23.32 L186.06,22.11 L187.57,20.9 L189.1,19.69 L190.64,18.48 L192.18,17.27 L193.73,16.06 L195.29,14.85 L196.86,13.65 L198.44,12.44 L200.03,11.23 L201.62,10.02 L203.22,8.81 L204.84,7.6 L206.46,6.39 L208.08,5.18 L209.72,3.97 L211.36,2.76 L213.02,1.55 L214.68,0.34 L216.35,-0.87" stroke="#808000" stroke-width="1.45"/>
<path d="M49.75,239.8 L54.65,222.97 L54.77,222.77 L55.16,222.14 L55.57,221.51 L55.99,220.88 L56.43,220.24 L56.88,219.61 L57.35,218.98 L57.83,218.35 L58.33,217.73 L58.84,217.1 L59.37,216.47 L59.91,215.84 L60.47,215.22 L61.04,214.59 L61.63,213.96 L62.23,213.34 L62.85,212.72 L63.48,212.09 L64.12,211.47 L64.78,210.84 L65.46,210.22 L66.15,209.6 L66.86,208.98 L67.58,208.36 L68.31,207.74 L69.06,207.11 L69.82,206.49 L70.6,205.87 L71.4,205.26 L72.21,204.64 L73.03,204.02 L73.87,203.4 L74.72,202.78 L75.59,202.16 L76.48,201.55 L77.37,200.93 L78.29,200.31 L79.22,199.7 L80.16,199.08 L81.12,198.46 L82.09,197.85 L83.08,197.23 L84.08,196.62 L85.1,196 L86.13,195.39 L87.17,194.78 L88.24,194.16 L89.31,193.55 L90.4,192.94 L91.51,192.32 L92.63,191.71 L93.77,191.1 L94.92,190.49 L96.08,189.87 L97.26,189.26 L98.46,188.65 L99.67,188.04 L100.89,187.43 L102.13,186.82 L103.39,186.21 L104.66,185.6 L105.94,184.99 L107.24,184.38 L108.56,183.77 L109.88,183.16 L111.23,182.55 L112.59,181.94 L113.96,181.33 L115.35,180.72 L116.75,180.12 L118.17,179.51 L119.6,178.9 L121.05,178.29 L122.51,177.69 L123.99,177.08 L125.48,176.47 L126.99,175.86 L128.51,175.26 L130.05,174.65 L131.6,174.04 L133.17,173.44 L134.75,172.83 L136.34,172.23 L137.96,171.62 L139.58,171.02 L141.22,170.41 L142.88,169.81 L144.55,169.2 L146.23,168.6 L147.93,167.99 L149.65,167.39 L151.38,166.78 L153.12,166.18 L154.88,165.57 L156.66,164.97 L158.45,164.37 L160.25,163.76 L162.07,163.16 L163.9,162.56 L165.75,161.96 L167.61,161.35 L169.49,160.75 L171.39,160.15 L173.29,159.55 L175.22,158.94 L177.15,158.34 L179.11,157.74 L181.07,157.14 L183.06,156.54 L185.05,155.93 L187.07,155.33 L189.09,154.73 L191.13,154.13 L193.19,153.53 L195.26,152.93 L197.35,152.33 L199.45,151.73 L201.56,151.13 L203.7,150.53 L205.84,149.93 L208,149.33 L210.18,148.73 L212.37,148.13 L214.57,147.53 L216.79,146.93 L219.03,146.33 L221.28,145.73 L223.54,145.13 L225.82,144.53 L228.11,143.93 L230.42,143.34 L232.75,142.74 L235.08,142.14 L237.44,141.54 L239.81,140.94 L242.19,140.34 L244.59,139.75 L247,139.15 L249.43,138.55 L251.87,137.95 L254.33,137.36 L256.8,136.76 L259.29,136.16 L261.79,135.56 L264.31,134.97 L266.84,134.37 L269.38,133.77 L271.94,133.18 L274.52,132.58 L277.11,131.98 L279.72,131.39 L282.34,130.79 L284.97,130.2 L287.62,129.6 L290.29,129 L292.97,128.41 L295.66,127.81 L298.37,127.22 L301.1,126.62 L303.84,126.03 L306.59,125.43 L309.36,124.84 L312.15,124.24 L314.94,123.65 L317.76,123.05 L320.59,122.46 L323.43,121.86 L326.29,121.27 L329.16,120.67 L332.05,120.08 L334.95,119.48 L337.87,118.89 L340.8,118.3 L343.75,117.7" stroke="#808000" stroke-width="1.45"/>
<mask id="lm" maskUnits="userSpaceOnUse" x="0" y="0" width="357" height="285"><path d="M49.75,163.22 L51.72,163.11 L53.7,162.98 L55.67,162.84 L57.64,162.67 L59.62,162.48 L61.59,162.27 L63.56,162.03 L65.54,161.77 L67.51,161.48 L69.48,161.17 L71.45,160.83 L73.43,160.45 L75.4,160.05 L77.37,159.61 L79.35,159.14 L81.32,158.63 L83.29,158.09 L85.27,157.51 L87.24,156.89 L89.21,156.24 L91.19,155.55 L93.16,154.82 L95.13,154.07 L97.11,153.28 L99.08,152.47 L101.05,151.64 L103.03,150.78 L105,149.9 L106.97,149 L108.94,148.07 L110.92,147.11 L112.89,146.13 L114.86,145.13 L116.84,144.1 L118.81,143.04 L120.78,141.96 L122.76,140.85 L124.73,139.74 L126.7,138.63 L128.68,137.54 L130.65,136.49 L132.62,135.46 L134.6,134.42 L136.57,133.35 L138.54,132.26 L140.52,131.14 L142.49,130.01 L144.46,128.87 L146.43,127.72 L148.41,126.57 L150.38,125.42 L152.35,124.28 L154.33,123.14 L156.3,122.01 L158.27,120.89 L160.25,119.78 L162.22,118.68 L164.19,117.58 L166.17,116.5 L168.14,115.43 L170.11,114.36 L172.09,113.31 L174.06,112.27 L176.03,111.24 L178.01,110.22 L179.98,109.22 L181.95,108.23 L183.92,107.25 L185.9,106.29 L187.87,105.34 L189.84,104.41 L191.82,103.49 L193.79,102.59 L195.76,101.71 L197.74,100.84 L199.71,99.99 L201.68,99.16 L203.66,98.35 L205.63,97.55 L207.6,96.78 L209.58,96.02 L211.55,95.28 L213.52,94.57 L215.49,93.87 L217.47,93.2 L219.44,92.55 L221.41,91.92 L223.39,91.32 L225.36,90.73 L227.33,90.18 L229.31,89.64 L231.28,89.13 L233.25,88.64 L235.23,88.17 L237.2,87.72 L239.17,87.29 L241.15,86.89 L243.12,86.5 L245.09,86.14 L247.07,85.79 L249.04,85.46 L251.01,85.15 L252.98,84.86 L254.96,84.59 L256.93,84.33 L258.9,84.09 L260.88,83.87 L262.85,83.66 L264.82,83.47 L266.8,83.29 L268.77,83.13 L270.74,82.98 L272.72,82.85 L274.69,82.73 L276.66,82.62 L278.64,82.52 L280.61,82.44 L282.58,82.37 L284.56,82.31 L286.53,82.26 L288.5,82.22 L290.47,82.19 L292.45,82.17 L294.42,82.16 L296.39,82.16 L298.37,82.17 L300.34,82.19 L302.31,82.21 L304.29,82.24 L306.26,82.27 L308.23,82.32 L310.21,82.37 L312.18,82.42 L314.15,82.48 L316.13,82.54 L318.1,82.61 L320.07,82.68 L322.05,82.75 L324.02,82.83 L325.99,82.91 L327.96,82.99 L329.94,83.08 L331.91,83.16 L333.88,83.25 L335.86,83.33 L337.83,83.42 L339.8,83.5 L341.78,83.59 L343.75,83.67" stroke="#fff" stroke-width="2.4" fill="none"/><path d="M49.75,239.8 L54.65,222.97 L54.77,222.77 L55.16,222.14 L55.57,221.51 L55.99,220.88 L56.43,220.24 L56.88,219.61 L57.35,218.98 L57.83,218.35 L58.33,217.73 L58.84,217.1 L59.37,216.47 L59.91,215.84 L60.47,215.22 L61.04,214.59 L61.63,213.96 L62.23,213.34 L62.85,212.72 L63.48,212.09 L64.12,211.47 L64.78,210.84 L65.46,210.22 L66.15,209.6 L66.86,208.98 L67.58,208.36 L68.31,207.74 L69.06,207.11 L69.82,206.49 L70.6,205.87 L71.4,205.26 L72.21,204.64 L73.03,204.02 L73.87,203.4 L74.72,202.78 L75.59,202.16 L76.48,201.55 L77.37,200.93 L78.29,200.31 L79.22,199.7 L80.16,199.08 L81.12,198.46 L82.09,197.85 L83.08,197.23 L84.08,196.62 L85.1,196 L86.13,195.39 L87.17,194.78 L88.24,194.16 L89.31,193.55 L90.4,192.94 L91.51,192.32 L92.63,191.71 L93.77,191.1 L94.92,190.49 L96.08,189.87 L97.26,189.26 L98.46,188.65 L99.67,188.04 L100.89,187.43 L102.13,186.82 L103.39,186.21 L104.66,185.6 L105.94,184.99 L107.24,184.38 L108.56,183.77 L109.88,183.16 L111.23,182.55 L112.59,181.94 L113.96,181.33 L115.35,180.72 L116.75,180.12 L118.17,179.51 L119.6,178.9 L121.05,178.29 L122.51,177.69 L123.99,177.08 L125.48,176.47 L126.99,175.86 L128.51,175.26 L130.05,174.65 L131.6,174.04 L133.17,173.44 L134.75,172.83 L136.34,172.23 L137.96,171.62 L139.58,171.02 L141.22,170.41 L142.88,169.81 L144.55,169.2 L146.23,168.6 L147.93,167.99 L149.65,167.39 L151.38,166.78 L153.12,166.18 L154.88,165.57 L156.66,164.97 L158.45,164.37 L160.25,163.76 L162.07,163.16 L163.9,162.56 L165.75,161.96 L167.61,161.35 L169.49,160.75 L171.39,160.15 L173.29,159.55 L175.22,158.94 L177.15,158.34 L179.11,157.74 L181.07,157.14 L183.06,156.54 L185.05,155.93 L187.07,155.33 L189.09,154.73 L191.13,154.13 L193.19,153.53 L195.26,152.93 L197.35,152.33 L199.45,151.73 L201.56,151.13 L203.7,150.53 L205.84,149.93 L208,149.33 L210.18,148.73 L212.37,148.13 L214.57,147.53 L216.79,146.93 L219.03,146.33 L221.28,145.73 L223.54,145.13 L225.82,144.53 L228.11,143.93 L230.42,143.34 L232.75,142.74 L235.08,142.14 L237.44,141.54 L239.81,140.94 L242.19,140.34 L244.59,139.75 L247,139.15 L249.43,138.55 L251.87,137.95 L254.33,137.36 L256.8,136.76 L259.29,136.16 L261.79,135.56 L264.31,134.97 L266.84,134.37 L269.38,133.77 L271.94,133.18 L274.52,132.58 L277.11,131.98 L279.72,131.39 L282.34,130.79 L284.97,130.2 L287.62,129.6 L290.29,129 L292.97,128.41 L295.66,127.81 L298.37,127.22 L301.1,126.62 L303.84,126.03 L306.59,125.43 L309.36,124.84 L312.15,124.24 L314.94,123.65 L317.76,123.05 L320.59,122.46 L323.43,121.86 L326.29,121.27 L329.16,120.67 L332.05,120.08 L334.95,119.48 L337.87,118.89 L340.8,118.3 L343.75,117.7" stroke="#fff" stroke-width="1.8" fill="none"/></mask>
<rect x="49" y="0" width="296" height="241" fill="url(#h)" mask="url(#lm)" clip-path="url(#hc)" opacity="0.8"/>
<path d="M50.4,239.27 L51.07,239.23 L51.74,239.15 L52.41,239.05 L53.08,238.91 L53.75,238.74 L54.42,238.54 L55.08,238.31 L55.75,238.05 L56.42,237.77 L57.09,237.46 L57.76,237.13 L58.43,236.78 L59.1,236.4 L59.77,236.01 L60.44,235.59 L61.11,235.16 L61.78,234.7 L62.45,234.23 L63.12,233.75 L63.78,233.25 L64.45,232.73 L65.12,232.2 L65.79,231.66 L66.46,231.11 L67.13,230.54 L67.8,229.97 L68.47,229.38 L69.14,228.79 L69.81,228.19 L70.48,227.58 L71.15,226.97 L71.82,226.35 L72.48,225.72 L73.15,225.1 L73.82,224.46 L74.49,223.83 L75.16,223.19 L75.83,222.56 L76.5,221.91 L77.17,221.27 L77.84,220.62 L78.51,219.97 L79.18,219.31 L79.85,218.65 L80.52,217.98 L81.18,217.31 L81.85,216.64 L82.52,215.96 L83.19,215.28 L83.86,214.59 L84.53,213.89 L85.2,213.2 L85.87,212.49 L86.54,211.78 L87.21,211.06 L87.88,210.34 L88.55,209.61 L89.22,208.88 L89.88,208.13 L90.55,207.38 L91.22,206.63 L91.89,205.87 L92.56,205.1 L93.23,204.32 L93.9,203.53 L94.57,202.74 L95.24,201.94 L95.91,201.13 L96.58,200.32 L97.25,199.5 L97.92,198.68 L98.58,197.85 L99.25,197.02 L99.92,196.18 L100.59,195.34 L101.26,194.49 L101.93,193.64 L102.6,192.79 L103.27,191.94 L103.94,191.08 L104.61,190.22 L105.28,189.36 L105.95,188.49 L106.62,187.63 L107.28,186.77 L107.95,185.9 L108.62,185.04 L109.29,184.17 L109.96,183.31 L110.63,182.45 L111.3,181.59 L111.97,180.73 L112.64,179.87 L113.31,179.02 L113.98,178.16 L114.65,177.31 L115.32,176.47 L115.98,175.62 L116.65,174.78 L117.32,173.93 L117.99,173.09 L118.66,172.26 L119.33,171.42 L120,170.59 L120.67,169.75 L121.34,168.92 L122.01,168.09 L122.68,167.26 L123.35,166.44 L124.02,165.61 L124.68,164.79 L125.35,163.97 L126.02,163.15 L126.69,162.33 L127.36,161.51 L128.03,160.69 L128.7,159.87 L129.37,159.06 L130.04,158.24 L130.71,157.43 L131.38,156.61 L132.05,155.8 L132.72,154.99 L133.38,154.18 L134.05,153.37 L134.72,152.56 L135.39,151.75 L136.06,150.94 L136.73,150.13 L137.4,149.32 L138.07,148.51 L138.74,147.7 L139.41,146.9 L140.08,146.09 L140.75,145.28 L141.42,144.47 L142.08,143.66 L142.75,142.86 L143.42,142.05 L144.09,141.24 L144.76,140.43 L145.43,139.62 L146.1,138.81 L146.77,138 L147.44,137.19 L148.11,136.38 L148.78,135.57 L149.45,134.75 L150.12,133.94 L150.78,133.13 L151.45,132.31 L152.12,131.49 L152.79,130.68 L153.46,129.86 L154.13,129.04 L154.8,128.22 L155.47,127.4 L156.14,126.57 L156.81,125.75 L157.48,124.92 L158.15,124.1 L158.82,123.27 L159.48,122.44 L160.15,121.6 L160.82,120.77 L161.49,119.94 L162.16,119.1 L162.83,118.26 L163.5,117.42 L164.17,116.58 L164.84,115.73 L165.51,114.88 L166.18,114.03 L166.85,113.18 L167.52,112.33 L168.18,111.47 L168.85,110.62 L169.52,109.76 L170.19,108.89 L170.86,108.03 L171.53,107.16 L172.2,106.29 L172.87,105.41 L173.54,104.54 L174.21,103.66 L174.88,102.78 L175.55,101.89 L176.22,101.01 L176.88,100.11 L177.55,99.22 L178.22,98.32 L178.89,97.42 L179.56,96.52 L180.23,95.62 L180.9,94.71 L181.57,93.8 L182.24,92.89 L182.91,91.97 L183.58,91.06 L184.25,90.14 L184.92,89.23 L185.58,88.31 L186.25,87.39 L186.92,86.47 L187.59,85.55 L188.26,84.64 L188.93,83.72 L189.6,82.8 L190.27,81.89 L190.94,80.97 L191.61,80.06 L192.28,79.15 L192.95,78.24 L193.62,77.33 L194.28,76.42 L194.95,75.52 L195.62,74.62 L196.29,73.73 L196.96,72.83 L197.63,71.94 L198.3,71.06 L198.97,70.17 L199.64,69.3 L200.31,68.42 L200.98,67.55 L201.65,66.69 L202.32,65.83 L202.98,64.97 L203.65,64.12 L204.32,63.27 L204.99,62.42 L205.66,61.58 L206.33,60.74 L207,59.9 L207.67,59.06 L208.34,58.22 L209.01,57.38 L209.68,56.54 L210.35,55.7 L211.02,54.86 L211.68,54.03 L212.35,53.18 L213.02,52.34 L213.69,51.5 L214.36,50.65 L215.03,49.8 L215.7,48.95 L216.37,48.1 L217.04,47.24 L217.71,46.37 L218.38,45.51 L219.05,44.63 L219.72,43.76 L220.38,42.87 L221.05,41.98 L221.72,41.09 L222.39,40.19 L223.06,39.28 L223.73,38.37 L224.4,37.45 L225.07,36.52 L225.74,35.59 L226.41,34.66 L227.08,33.72 L227.75,32.77 L228.42,31.82 L229.08,30.86 L229.75,29.9 L230.42,28.94 L231.09,27.96 L231.76,26.99 L232.43,26 L233.1,25.02 L233.77,24.03 L234.44,23.03 L235.11,22.03 L235.78,21.03 L236.45,20.02 L237.12,19.01 L237.78,17.99 L238.45,16.97 L239.12,15.95 L239.79,14.92 L240.46,13.9 L241.13,12.87 L241.8,11.84 L242.47,10.81 L243.14,9.78 L243.81,8.75 L244.48,7.72 L245.15,6.69 L245.82,5.65 L246.48,4.62 L247.15,3.6 L247.82,2.57 L248.49,1.54 L249.16,0.52 L249.83,-0.5 L250.5,-1.52" stroke="#ff00ff" stroke-width="2.6"/>
<rect x="189.2" y="110.5" width="150.3" height="121.8" fill="#fff"/><path d="M194.7,123 H214.6" stroke="#000" stroke-width="2"/><text class="lg" x="216.9" y="126"><tspan font-style="italic">n</tspan> = <tspan font-style="italic">p</tspan> = 2*10<tspan class="sp">11</tspan> cm<tspan class="sp">-2</tspan>, <tspan font-style="italic">T</tspan><tspan class="st">*</tspan> = 4.2 K</text><path d="M194.7,135 H201.1 M208.9,135 H214.6" stroke="#f0f" stroke-width="2"/><text class="lg" x="216.9" y="138"><tspan font-style="italic">n</tspan> = <tspan font-style="italic">p</tspan> = 2*10<tspan class="sp">11</tspan> cm<tspan class="sp">-2</tspan>, <tspan font-style="italic">T</tspan><tspan class="st">*</tspan> = 77 K</text><path d="M194.7,147.1 H214.6" stroke="#f00" stroke-width="2"/><text class="lg" x="216.9" y="150.1"><tspan font-style="italic">n</tspan> = <tspan font-style="italic">p</tspan> = 4*10<tspan class="sp">11</tspan> cm<tspan class="sp">-2</tspan>, <tspan font-style="italic">T</tspan><tspan class="st">*</tspan> = 4.2 K</text><path d="M194.7,159.2 H201.1 M208.9,159.2 H214.6" stroke="#000" stroke-width="2"/><text class="lg" x="216.9" y="162.2"><tspan font-style="italic">n</tspan> = <tspan font-style="italic">p</tspan> = 4*10<tspan class="sp">11</tspan> cm<tspan class="sp">-2</tspan>, <tspan font-style="italic">T</tspan><tspan class="st">*</tspan> = 77 K</text><path d="M194.7,171.3 H214.6" stroke="#00f" stroke-width="2"/><text class="lg" x="216.9" y="174.3"><tspan font-style="italic">n</tspan> = <tspan font-style="italic">p</tspan> = 10<tspan class="sp">12</tspan> cm<tspan class="sp">-2</tspan>, <tspan font-style="italic">T</tspan><tspan class="st">*</tspan> = 4.2 K</text><path d="M194.7,183.4 H201.1 M208.9,183.4 H214.6" stroke="#0ff" stroke-width="2"/><text class="lg" x="216.9" y="186.4"><tspan font-style="italic">n</tspan> = <tspan font-style="italic">p</tspan> = 10<tspan class="sp">12</tspan> cm<tspan class="sp">-2</tspan>, <tspan font-style="italic">T</tspan><tspan class="st">*</tspan> = 77 K</text><path d="M195.4,195.5 h0.01 M204.2,195.5 h0.01 M213,195.5 h0.01" stroke="#8000ff" stroke-width="1.7" stroke-linecap="round"/><text class="lg" x="216.9" y="198.5"><tspan font-style="italic">n</tspan> = <tspan font-style="italic">p</tspan> = 10<tspan class="sp">12</tspan> cm<tspan class="sp">-2</tspan>, <tspan font-style="italic">T</tspan><tspan class="st">*</tspan> = 300 K</text><path d="M194.7,207.3 H214.6" stroke="#0f0" stroke-width="2"/><text class="lg" font-style="italic"><tspan x="216.9" y="210.2" font-size="8.2">E</tspan><tspan x="222.2" y="213.1" font-size="5.5">g</tspan><tspan x="223.3" y="205.4" font-size="4.6">eff</tspan></text><path d="M194.7,221.6 H214.6" stroke="#808000" stroke-width="2"/><text class="lg" x="216.9" y="224.6"><tspan font-style="italic">n</tspan> = <tspan font-style="italic">p</tspan> = 4*10<tspan class="sp">11</tspan> cm<tspan class="sp">-2</tspan></text>
</g>
<path d="M49.7,0.45 H344.6" stroke="#111" stroke-width="1.5"/>
<path d="M343.9,0 V240.6" stroke="#4a4a4a" stroke-width="1.4"/>
<path d="M49,239.8 H344.6" stroke="#383f38" stroke-width="1.5"/>
<path d="M49.7,0 V240.6" stroke="#2a2a2a" stroke-width="1.5"/>
<path d="M74.25,239.8 v-2.6 M74.25,0.45 v2.6 M98.75,239.8 v-4.6 M98.75,0.45 v4.6 M123.25,239.8 v-2.6 M123.25,0.45 v2.6 M147.75,239.8 v-4.6 M147.75,0.45 v4.6 M172.25,239.8 v-2.6 M172.25,0.45 v2.6 M196.75,239.8 v-4.6 M196.75,0.45 v4.6 M221.25,239.8 v-2.6 M221.25,0.45 v2.6 M245.75,239.8 v-4.6 M245.75,0.45 v4.6 M270.25,239.8 v-2.6 M270.25,0.45 v2.6 M294.75,239.8 v-4.6 M294.75,0.45 v4.6 M319.25,239.8 v-2.6 M319.25,0.45 v2.6 M49.75,218.02 h2.6 M343.9,218.02 h-2.6 M49.75,196.24 h4.6 M343.9,196.24 h-4.6 M49.75,174.46 h2.6 M343.9,174.46 h-2.6 M49.75,152.68 h4.6 M343.9,152.68 h-4.6 M49.75,130.9 h2.6 M343.9,130.9 h-2.6 M49.75,109.12 h4.6 M343.9,109.12 h-4.6 M49.75,87.34 h2.6 M343.9,87.34 h-2.6 M49.75,65.56 h4.6 M343.9,65.56 h-4.6 M49.75,43.78 h2.6 M343.9,43.78 h-2.6 M49.75,22 h4.6 M343.9,22 h-4.6" stroke="#000" stroke-width="1.3" fill="none"/>
<text x="49.75" y="256.4" text-anchor="middle">0.00</text><text x="98.75" y="256.4" text-anchor="middle">0.05</text><text x="147.75" y="256.4" text-anchor="middle">0.10</text><text x="196.75" y="256.4" text-anchor="middle">0.15</text><text x="245.75" y="256.4" text-anchor="middle">0.20</text><text x="294.75" y="256.4" text-anchor="middle">0.25</text><text x="343.75" y="256.4" text-anchor="middle">0.30</text>
<text x="45.3" y="244.5" text-anchor="end">0</text><text x="45.3" y="200.94" text-anchor="end">20</text><text x="45.3" y="157.38" text-anchor="end">40</text><text x="45.3" y="113.82" text-anchor="end">60</text><text x="45.3" y="70.26" text-anchor="end">80</text><text x="45.3" y="26.7" text-anchor="end">100</text>
<text x="99.9" y="95.3">0</text>
<text x="147.8" y="181.7">F</text>
<text x="173.4" y="281.2" font-size="15.3px"><tspan font-style="italic">q</tspan>,<tspan dx="1.5"> nm</tspan><tspan font-size="9.8px" dx="0.6" baseline-shift="6.4px">-1</tspan></text>
<g transform="translate(11.6,0) rotate(-90)" font-size="15.2px"><text x="-178.9">Re(</text><text x="-139.9" font-family="Liberation Serif" font-size="18px">ω</text><text x="-127.3">)</text><text x="-123.8">,</text><text x="-114.5" font-size="16px">meV</text></g>
<g fill="none" stroke="#000" stroke-linecap="round"><path d="M1.7,147.3 L11.1,150.7" stroke-width="1.05"/><path d="M3.4,144.6 L3.6,150.4" stroke-width="0.75"/><path d="M7.4,148.4 Q4.7,146.6 5.3,143.7 M5.2,143.3 L11.1,144.8 Q11.7,143.4 10.4,142.6" stroke-width="1.0"/></g>
</svg>
</body></html>
